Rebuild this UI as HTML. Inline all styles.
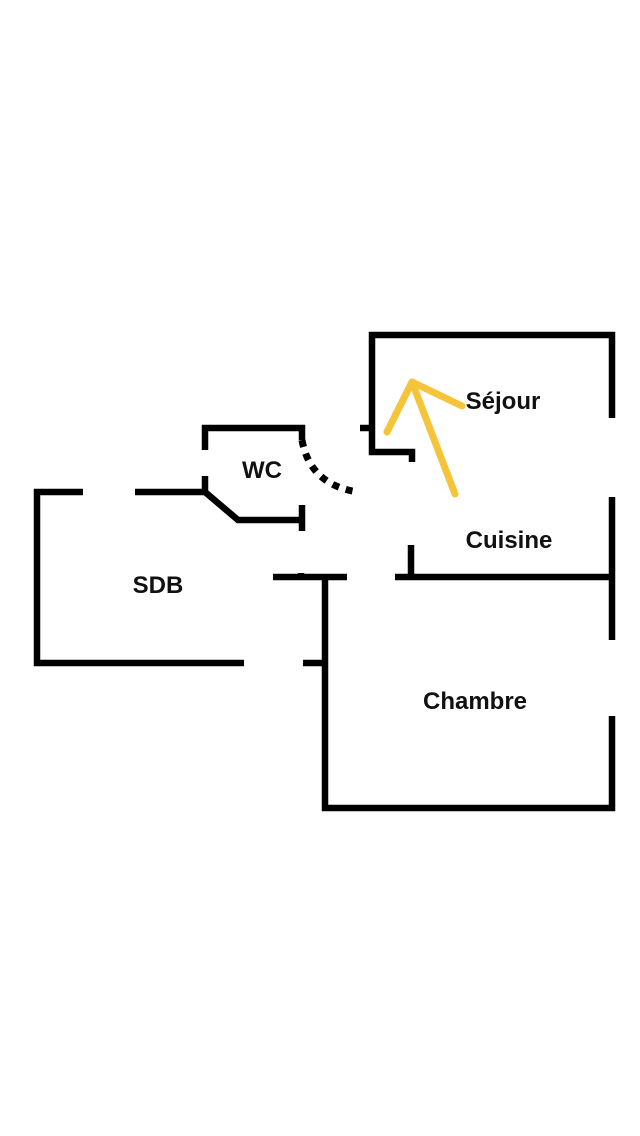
<!DOCTYPE html>
<html><head><meta charset="utf-8"><style>
html,body{margin:0;padding:0;background:#fff;width:640px;height:1136px;overflow:hidden}
svg{display:block}
text{font-family:"Liberation Sans",sans-serif;font-weight:bold;font-size:24px;fill:#111}
</style></head><body>
<svg width="640" height="1136" viewBox="0 0 640 1136">
<g stroke="#000" stroke-width="6.5" fill="none" stroke-linecap="butt" stroke-linejoin="miter">
<polyline points="372,418 372,335 612,335 612,418"/>
<polyline points="372,418 372,452 412,452 412,462"/>
<line x1="360" y1="428" x2="372" y2="428"/>
<line x1="612" y1="497" x2="612" y2="640"/>
<line x1="612" y1="716" x2="612" y2="811"/>
<line x1="395" y1="577" x2="612" y2="577"/>
<line x1="411" y1="545" x2="411" y2="577"/>
<line x1="273" y1="577" x2="347" y2="577"/>
<line x1="301" y1="573" x2="301" y2="577"/>
<polyline points="325,577 325,808 615,808"/>
<line x1="303" y1="663" x2="325" y2="663"/>
<polyline points="83,492 37,492 37,663 244,663"/>
<line x1="135" y1="492" x2="205" y2="492"/>
<polyline points="205,450 205,428 302,428 302,440"/>
<line x1="205" y1="476" x2="205" y2="492"/>
<polyline points="205,492 238,520 302,520"/>
<line x1="302" y1="505" x2="302" y2="531"/>
<path d="M302,440 Q310,485 358,492" stroke-dasharray="7,7" stroke-width="7"/>
</g>
<g stroke="#f6c438" stroke-width="7" fill="none" stroke-linecap="round" stroke-linejoin="round">
<polyline points="387,432 412,382 462,406"/>
<line x1="412" y1="382" x2="455" y2="494"/>
</g>
<text x="503" y="409" text-anchor="middle">Séjour</text>
<text x="262" y="478" text-anchor="middle">WC</text>
<text x="509" y="548" text-anchor="middle">Cuisine</text>
<text x="158" y="593" text-anchor="middle">SDB</text>
<text x="475" y="709" text-anchor="middle">Chambre</text>
</svg>
</body></html>
